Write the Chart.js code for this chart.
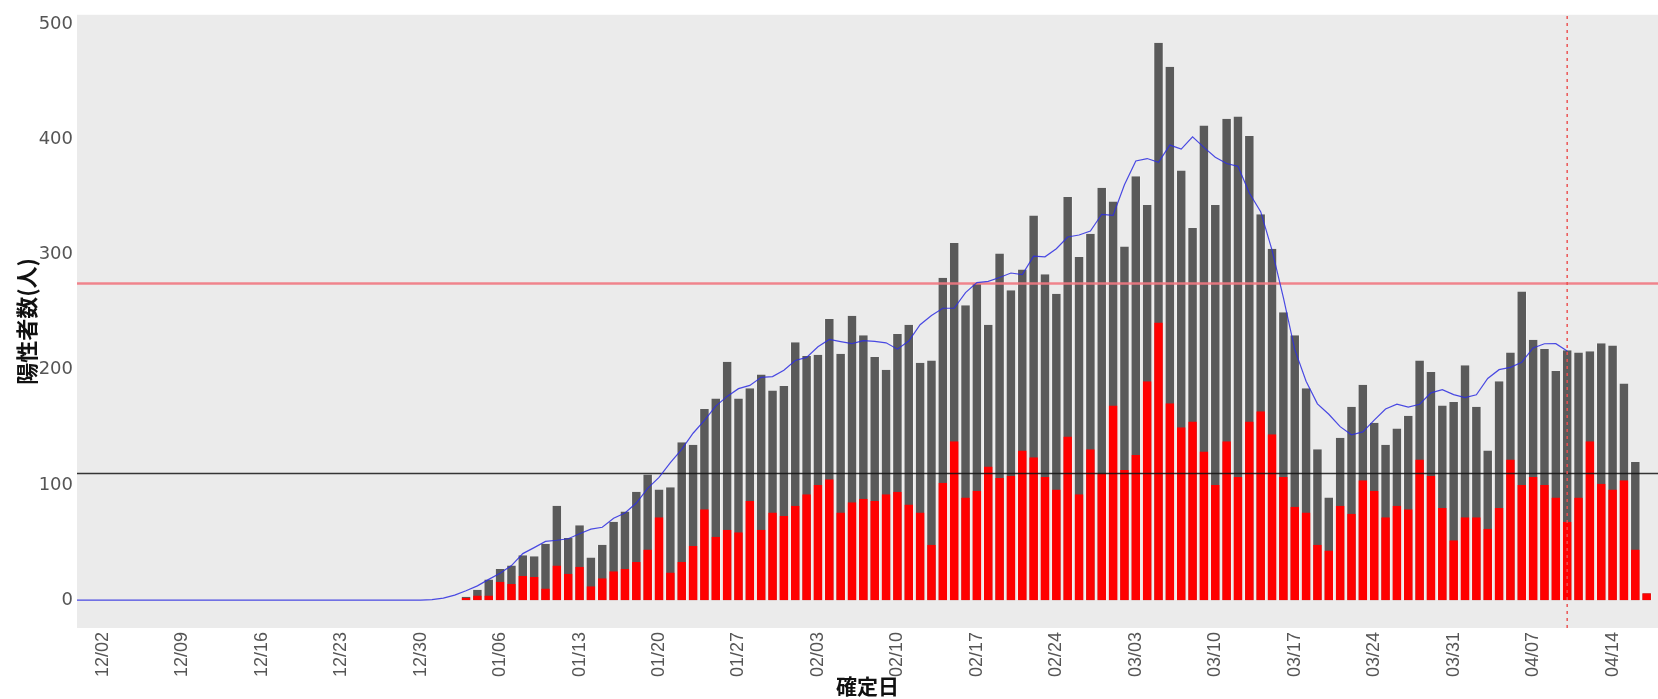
<!DOCTYPE html>
<html>
<head>
<meta charset="utf-8">
<script src="https://cdn.jsdelivr.net/npm/chart.js@4.4.1/dist/chart.umd.min.js"></script>
<style>
html,body{margin:0;padding:0;background:#ffffff;}
#wrap{width:1658px;height:699px;position:relative;overflow:hidden;}
canvas{display:block;}
</style>
</head>
<body>
<div id="wrap"><canvas id="c" width="1658" height="699"></canvas></div>
<script>
// x positions are day numbers counted from 12/02 (= day 0)
const tickLabels = ['12/02','12/09','12/16','12/23','12/30','01/06','01/13','01/20','01/27','02/03',
                    '02/10','02/17','02/24','03/03','03/10','03/17','03/24','03/31','04/07','04/14'];
const tickStep = 7;

// daily bars from 01/03 (day 32) to 04/17
const firstBarDay = 32;
const totalCases = [3,9,18,27,30,39,38,49,82,54,
  65,37,48,68,77,94,109,96,98,137,
  135,166,175,207,175,184,196,182,186,224,
  212,213,244,214,247,230,211,200,231,239,
  206,208,280,310,256,275,239,301,269,287,
  334,283,266,350,298,318,358,346,307,368,
  343,484,463,373,323,412,343,418,420,403,
  335,305,250,230,184,131,89,141,168,187,
  154,135,149,160,208,198,169,172,204,168,
  130,190,215,268,226,218,199,217,215,216,
  223,221,188,120,6];
const redCases = [2,4,4,16,14,21,20,10,30,23,
  29,12,19,25,27,33,44,72,24,33,
  47,79,55,61,59,86,61,76,73,82,
  92,100,105,76,85,88,86,92,94,83,
  76,48,102,138,89,95,116,106,108,130,
  124,107,96,142,92,131,110,169,113,126,
  190,241,171,150,155,129,100,138,107,155,
  164,144,107,81,76,48,43,82,75,104,
  95,72,82,79,122,108,80,52,72,72,
  62,80,122,100,107,100,89,68,89,138,
  101,96,104,44,6];

// blue moving-average line, from day -3 to 04/10
const maStartDay = -3;
const maValues = [0,0,0,0,0,0,0,0,0,0,0,0,0,0,0,0,
  0,0,0,0,0,0,0,0,0,0,0,0,0,0,0,0,
  0.4,1.7,4.3,8.1,12.4,18.0,23.4,30.0,40.4,
  45.6,51.0,52.0,53.3,57.6,61.6,63.3,71.1,75.6,84.3,
  97.0,106.6,119.3,130.9,144.9,156.1,168.4,176.9,183.6,186.4,
  193.4,194.1,199.6,208.1,210.7,220.0,226.3,224.4,222.7,225.3,
  224.6,223.4,217.9,225.0,239.1,247.1,253.4,253.4,267.0,275.7,
  276.7,280.1,284.0,282.7,298.6,298.1,305.1,315.3,317.0,320.4,
  335.0,334.0,360.6,381.3,383.4,380.1,395.1,391.6,402.3,393.1,
  384.6,379.1,376.6,353.4,337.3,303.9,262.6,217.7,190.0,170.4,
  161.4,150.6,143.6,146.1,156.3,165.9,170.1,167.6,170.1,180.0,
  182.7,178.4,175.9,178.3,192.4,200.1,202.1,206.6,219.0,222.6,
  222.7,216.3];

const redLevel = [275];
const blackLevel = [110];
const markerDays = [129]; // 04/10
const yTicks = [0,100,200,300,400,500];
const xRange = [-2.27, 137.0];
const yRange = [-24.2, 508.2];

const panelBg = {
  id: 'panelBg',
  beforeDraw(chart) {
    const {ctx, chartArea: a} = chart;
    ctx.save();
    ctx.fillStyle = '#ebebeb';
    ctx.fillRect(a.left, a.top, a.right - a.left, a.bottom - a.top);
    ctx.restore();
  }
};

const bars = (vals) => vals.map((v, i) => ({x: firstBarDay + i, y: v}));
const hline = (y) => [{x: xRange[0], y: y}, {x: xRange[1], y: y}];

new Chart(document.getElementById('c'), {
  data: {
    datasets: [
      {type: 'line', order: 0, data: maValues.map((v, i) => ({x: maStartDay + i, y: v})),
       borderColor: 'rgba(45,45,225,0.85)', borderWidth: 1.2, pointRadius: 0, tension: 0},
      {type: 'line', order: 1, data: [{x: markerDays[0], y: yRange[0]}, {x: markerDays[0], y: yRange[1]}],
       borderColor: 'rgba(235,80,80,0.9)', borderWidth: 1.6, borderDash: [3, 4], pointRadius: 0},
      {type: 'line', order: 2, data: hline(blackLevel[0]),
       borderColor: 'rgba(20,20,20,0.85)', borderWidth: 1.5, pointRadius: 0},
      {type: 'line', order: 3, data: hline(redLevel[0]),
       borderColor: 'rgba(240,120,130,0.9)', borderWidth: 2.5, pointRadius: 0},
      {type: 'bar', order: 4, data: bars(redCases), backgroundColor: '#ff0000',
       borderColor: 'rgba(255,235,235,0.75)', borderWidth: {left: 1, right: 1, top: 0, bottom: 0},
       barPercentage: 0.92, categoryPercentage: 1, grouped: false},
      {type: 'bar', order: 5, data: bars(totalCases), backgroundColor: '#5a5a5a',
       borderColor: 'rgba(245,245,245,0.75)', borderWidth: {left: 1, right: 1, top: 0, bottom: 0},
       barPercentage: 0.92, categoryPercentage: 1, grouped: false}
    ]
  },
  options: {
    responsive: false,
    devicePixelRatio: 1,
    animation: false,
    events: [],
    layout: {padding: {top: 11, right: 0, bottom: 0, left: 0}},
    plugins: {legend: {display: false}, tooltip: {enabled: false}},
    scales: {
      x: {
        type: 'linear', min: xRange[0], max: xRange[1], offset: false,
        afterBuildTicks: (s) => { s.ticks = tickLabels.map((l, i) => ({value: i * tickStep})); },
        afterFit: (s) => { s.height = 71; },
        grid: {display: false, drawTicks: false, offset: false}, border: {display: false},
        ticks: {autoSkip: false, maxRotation: 90, minRotation: 90, padding: 4,
                color: '#555555', font: {family: 'Liberation Sans', size: 18},
                callback: (v) => tickLabels[Math.round(v / tickStep)]},
        title: {display: true, text: '確定日', color: '#111111', padding: {top: 0, bottom: 0},
                font: {family: 'Noto Sans CJK JP', size: 21, weight: 'bold'}}
      },
      y: {
        type: 'linear', min: yRange[0], max: yRange[1],
        afterBuildTicks: (s) => { s.ticks = yTicks.map((v) => ({value: v})); },
        afterFit: (s) => { s.width = 77; },
        grid: {display: false, drawTicks: false}, border: {display: false},
        ticks: {padding: 4, color: '#555555', font: {family: 'DejaVu Sans', size: 18}},
        title: {display: true, text: '陽性者数(人)', color: '#111111', padding: {top: 13, bottom: 0},
                font: {family: 'Noto Sans CJK JP', size: 22, weight: 'bold'}}
      }
    }
  },
  plugins: [panelBg]
});
</script>
</body>
</html>
